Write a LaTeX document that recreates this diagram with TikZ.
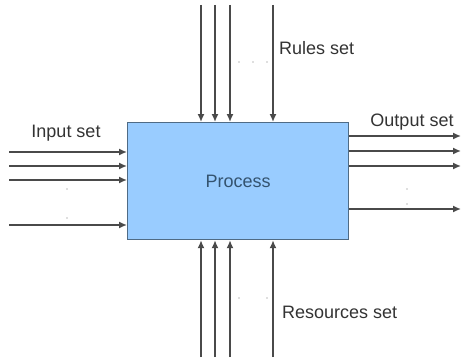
\documentclass[tikz,border=0pt]{standalone}
\usepackage{fontspec}
\setmainfont{Liberation Sans}
\usetikzlibrary{arrows.meta}
\definecolor{boxfill}{HTML}{99CCFF}
\definecolor{boxline}{HTML}{4F6B85}
\definecolor{proctext}{HTML}{34536F}
\definecolor{linegray}{HTML}{4A4A4A}
\begin{document}
\begin{tikzpicture}[x=1pt,y=-1pt,
  arr/.style={draw=linegray,line width=1.5pt,-{Latex[length=8pt,width=7pt]}},
  lbl/.style={font=\fontsize{18}{21}\selectfont,text=black!80,inner sep=0pt},
  dotmark/.style={fill=gray!50,draw=none,circle,inner sep=0pt,minimum size=1.8pt}]
\useasboundingbox (0,0) rectangle (463,361);
\node[draw=boxline,fill=boxfill,line width=1.2pt,minimum width=221pt,minimum height=117pt,anchor=north west,inner sep=0pt,
  font=\fontsize{18}{21}\selectfont,text=proctext] (P) at (127,122) {Process};
% top (rules) and bottom (resources)
\foreach \i/\x in {1/201,2/215,3/230,4/273}{
  \coordinate (t\i) at (\x,5);
  \draw[arr] (t\i) -- (t\i |- P.north);
  \coordinate (b\i) at (\x,357);
  \draw[arr] (b\i) -- (b\i |- P.south);
}
% inputs
\foreach \i/\y in {1/152,2/166,3/180,4/225}{
  \coordinate (in\i) at (9,\y);
  \draw[arr] (in\i) -- (in\i -| P.west);
}
% outputs
\foreach \i/\y in {1/136,2/151,3/166,4/209}{
  \coordinate (out\i) at (461,\y);
  \draw[arr] (out\i -| P.east) -- (out\i);
}
% dots
\foreach \p/\q [count=\k] in {239/62,253/62,267/62,239/298,267/298,67/189,67/218,407/189,407/204}{
  \node[dotmark] (d\k) at (\p,\q) {};
}
% labels
\node[lbl] (lin) at (66,133) {Input set};
\node[lbl] (lout) at (412,122) {Output set};
\node[lbl,anchor=west] (lrules) at (279,48) {Rules set};
\node[lbl,anchor=west] (lres) at (282,312) {Resources set};
\end{tikzpicture}
\end{document}
